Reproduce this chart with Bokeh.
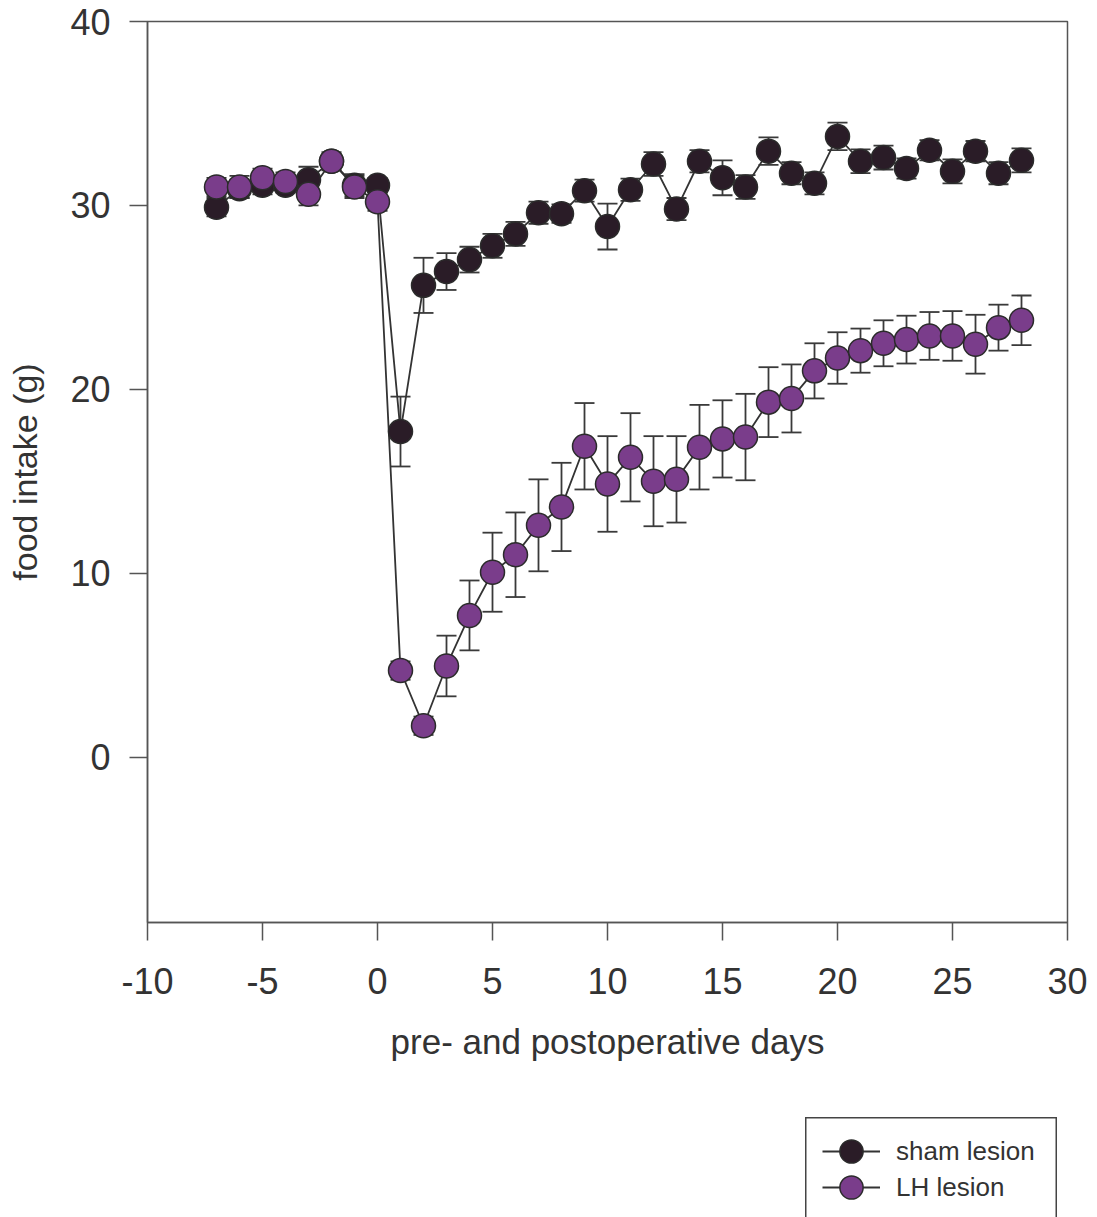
from bokeh.plotting import figure
from bokeh.models import (ColumnDataSource, Whisker, TeeHead, Range1d, FixedTicker,
                          Legend, LegendItem, Spacer)
from bokeh.layouts import column, row
from bokeh.embed import file_html
from bokeh.resources import INLINE

days = list(range(-7, 29))

sham_mean = [29.9, 30.9, 31.1, 31.1, 31.4, 32.4, 31.1, 31.1,
             17.7, 25.65, 26.4, 27.05, 27.8, 28.45, 29.6, 29.55, 30.8, 28.85,
             30.85, 32.25, 29.8, 32.4, 31.5, 31.0, 32.95, 31.75, 31.2, 33.75,
             32.4, 32.6, 32.0, 33.0, 31.85, 32.95, 31.75, 32.45]
sham_sem = [0.5, 0.5, 0.5, 0.4, 0.7, 0.4, 0.6, 0.4,
            1.9, 1.5, 1.0, 0.7, 0.65, 0.65, 0.6, 0.5, 0.6, 1.25,
            0.6, 0.65, 0.6, 0.6, 0.95, 0.65, 0.75, 0.6, 0.6, 0.75,
            0.65, 0.65, 0.55, 0.55, 0.65, 0.55, 0.6, 0.65]

lh_mean = [31.0, 31.0, 31.5, 31.3, 30.6, 32.4, 31.0, 30.2,
           4.7, 1.7, 4.95, 7.7, 10.05, 11.0, 12.6, 13.6, 16.9, 14.85,
           16.3, 15.0, 15.1, 16.85, 17.3, 17.4, 19.3, 19.5, 21.0, 21.7,
           22.1, 22.5, 22.7, 22.9, 22.9, 22.45, 23.35, 23.75]
lh_sem = [0.5, 0.6, 0.5, 0.5, 0.6, 0.5, 0.6, 0.5,
          0.5, 0.5, 1.65, 1.9, 2.15, 2.3, 2.5, 2.4, 2.35, 2.6,
          2.4, 2.45, 2.35, 2.3, 2.1, 2.35, 1.9, 1.85, 1.5, 1.4,
          1.2, 1.25, 1.3, 1.3, 1.35, 1.6, 1.25, 1.35]

x_ticks = [-10, -5, 0, 5, 10, 15, 20, 25, 30]
x_tick_labels = ["-10", "-5", "0", "5", "10", "15", "20", "25", "30"]
y_ticks = [0, 10, 20, 30, 40]
series_labels = ["sham lesion", "LH lesion"]

sham_color = "#2a1c27"
lh_color = "#7a3d8b"
edge = "#2b2b2b"
axis_col = "#555555"
text_col = "#333333"
FONT = "Liberation Sans"

W, H = 1089, 1117
p = figure(width=W, height=H, output_backend="svg", toolbar_location=None,
           x_range=Range1d(-10, 30), y_range=Range1d(-9, 40),
           min_border_left=147, min_border_right=W - 1067,
           min_border_top=21, min_border_bottom=H - 922)
p.grid.visible = False
p.outline_line_color = axis_col
p.outline_line_width = 1.5

for ax in (p.xaxis[0], p.yaxis[0]):
    ax.axis_line_color = axis_col
    ax.axis_line_width = 1.5
    ax.major_tick_line_color = axis_col
    ax.major_tick_line_width = 1.5
    ax.major_tick_out = 18
    ax.major_tick_in = 0
    ax.minor_tick_line_color = None
    ax.major_label_text_font = FONT
    ax.major_label_text_font_size = "36px"
    ax.major_label_text_color = text_col
    ax.axis_label_text_font = FONT
    ax.axis_label_text_font_style = "normal"
    ax.axis_label_text_color = text_col

p.xaxis[0].ticker = FixedTicker(ticks=x_ticks)
p.xaxis[0].major_label_overrides = {t: s for t, s in zip(x_ticks, x_tick_labels)}
p.yaxis[0].ticker = FixedTicker(ticks=y_ticks)
p.xaxis[0].axis_label = "pre- and postoperative days"
p.yaxis[0].axis_label = "food intake (g)"
p.xaxis[0].axis_label_text_font_size = "35px"
p.yaxis[0].axis_label_text_font_size = "34px"
p.xaxis[0].major_label_standoff = 27
p.yaxis[0].major_label_standoff = 19
p.xaxis[0].axis_label_standoff = 25
p.yaxis[0].axis_label_standoff = 23

sham_src = ColumnDataSource(dict(
    x=days, y=sham_mean,
    upper=[m + s for m, s in zip(sham_mean, sham_sem)],
    lower=[m - s for m, s in zip(sham_mean, sham_sem)]))
lh_src = ColumnDataSource(dict(
    x=days, y=lh_mean,
    upper=[m + s for m, s in zip(lh_mean, lh_sem)],
    lower=[m - s for m, s in zip(lh_mean, lh_sem)]))

for src in (sham_src, lh_src):
    w = Whisker(base="x", upper="upper", lower="lower", source=src,
                line_color="#3a3a3a", line_width=1.8,
                upper_head=TeeHead(size=20, line_color="#3a3a3a", line_width=1.8),
                lower_head=TeeHead(size=20, line_color="#3a3a3a", line_width=1.8),
                level="underlay")
    p.add_layout(w)

p.line("x", "y", source=sham_src, line_color="#333333", line_width=1.8)
p.line("x", "y", source=lh_src, line_color="#333333", line_width=1.8)
p.scatter("x", "y", source=sham_src, size=24, fill_color=sham_color,
          line_color=edge, line_width=1.5)
p.scatter("x", "y", source=lh_src, size=24, fill_color=lh_color,
          line_color=edge, line_width=1.5)

# legend panel: a boxed key below the plot, as in the reference.
# Its renderers share the real data but the view range keeps them off-frame,
# so only the legend glyphs are visible.
LW, LH = 252, 120
leg = figure(width=LW, height=LH, output_backend="svg", toolbar_location=None,
             x_axis_location=None, y_axis_location=None,
             x_range=Range1d(1000, 1001), y_range=Range1d(1000, 1001), min_border=0)
leg.grid.visible = False
leg.outline_line_color = "#444444"
leg.outline_line_width = 2

row_centers = [34, 70]
for lab, col, src, yc in zip(series_labels, (sham_color, lh_color),
                             (sham_src, lh_src), row_centers):
    ln = leg.line("x", "y", source=src, line_color="#333333", line_width=1.8)
    sc = leg.scatter("x", "y", source=src, size=24, fill_color=col,
                     line_color=edge, line_width=1.5)
    lg = Legend(items=[LegendItem(label=lab, renderers=[ln, sc])],
                location=(17, LH - (yc + 30)))
    lg.glyph_width = 58
    lg.glyph_height = 60
    lg.label_height = 60
    lg.padding = 0
    lg.margin = 0
    lg.spacing = 0
    lg.label_standoff = 16
    lg.label_text_font = FONT
    lg.label_text_font_size = "26px"
    lg.label_text_color = text_col
    lg.border_line_color = None
    lg.background_fill_alpha = 0.0
    leg.add_layout(lg, "center")

layout = column(p, row(Spacer(width=805, height=LH), leg))

open("out.html", "w").write(file_html(layout, INLINE))
